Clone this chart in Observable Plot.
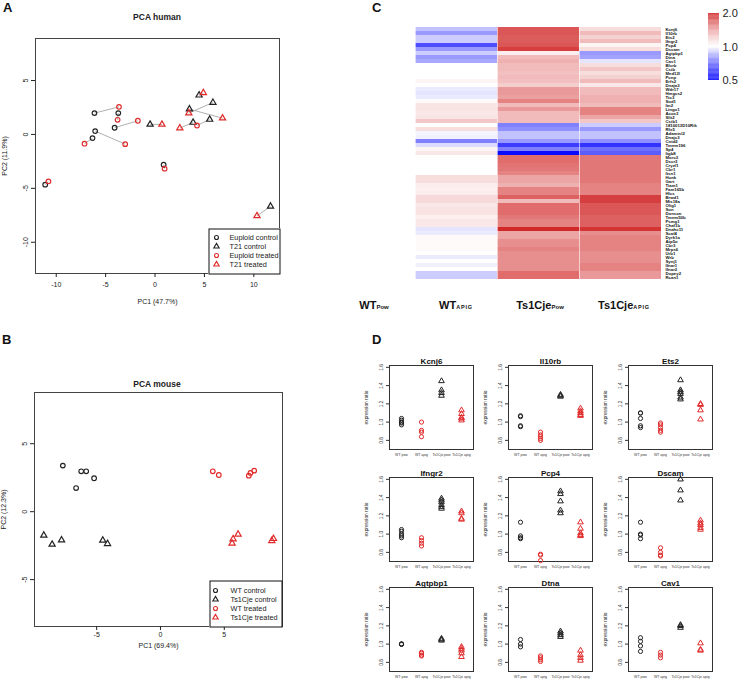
<!DOCTYPE html>
<html><head><meta charset="utf-8">
<script src="https://cdn.jsdelivr.net/npm/d3@7"></script>
<script src="https://cdn.jsdelivr.net/npm/@observablehq/plot@0.6"></script>
<style>
body{margin:0;background:#fff;font-family:"Liberation Sans",Arial,sans-serif}
#root{position:relative;width:739px;height:680px;overflow:hidden;background:#fff}
#root svg{overflow:visible}
</style></head><body><div id="root"></div><script>
// ---------- Panel A: PCA human ----------
const humanGroups = ["Euploid control","T21 control","Euploid treated","T21 treated"];
const humanEuploidControlPC1 = [-6.13,-4.09,-6.06,-11.12,0.87,-3.72,-6.33];
const humanEuploidControlPC2 = [1.98,0.62,0.31,-4.66,-2.81,1.98,-0.34];
const humanT21ControlPC1 = [-0.5,4.46,5.86,3.48,3.85,5.53,11.69];
const humanT21ControlPC2 = [0.93,3.64,2.96,2.35,1.11,1.39,-6.67];
const humanEuploidTreatedPC1 = [-3.65,-1.74,-3.02,-10.79,0.97,-3.79,-7.14,4.25];
const humanEuploidTreatedPC2 = [2.56,1.27,-0.90,-4.35,-3.18,1.36,-0.86,0.83];
const humanT21TreatedPC1 = [0.7,4.89,3.42,6.83,2.51,10.32];
const humanT21TreatedPC2 = [0.93,3.86,1.98,1.51,0.59,-7.56];
// links: [fromGroupIndex, fromPoint, toGroupIndex, toPoint]
const humanLinks = [[0,0,2,0],[0,1,2,1],[0,2,2,2],[0,3,2,3],[0,4,2,4],[0,5,2,5],[0,6,2,6],
  [1,0,3,0],[1,1,3,1],[1,2,3,2],[1,3,3,3],[1,4,3,4],[1,5,2,7],[1,6,3,5]];

// ---------- Panel B: PCA mouse ----------
const mouseGroups = ["WT control","Ts1Cje control","WT treated","Ts1Cje treated"];
const mouseWTControlPC1 = [-7.65,-6.21,-5.82,-5.2,-6.61];
const mouseWTControlPC2 = [3.39,2.97,2.97,2.46,1.74];
const mouseTsControlPC1 = [-9.14,-8.49,-7.75,-4.52,-4.15];
const mouseTsControlPC2 = [-1.74,-2.41,-2.09,-2.11,-2.36];
const mouseWTTreatedPC1 = [4.1,4.57,6.92,7.05,7.34];
const mouseWTTreatedPC2 = [2.97,2.7,2.65,2.85,3.02];
const mouseTsTreatedPC1 = [5.61,5.69,6.08,8.72,8.85];
const mouseTsTreatedPC2 = [-2.33,-2.01,-1.67,-2.14,-1.99];

// ---------- Panel C: heatmap ----------
const hmColumns = ["WTPow","WTAPIG","Ts1CjePow","Ts1CjeAPIG"];
const hmGenes = ["Kcnj6","Il10rb","Ets2","Ifngr2","Pcp4","Dscam","Agtpbp1","Dtna","Cav1","Blvrb","Cstb","Med12l","Pcnp","Erfs2","Dnaja3","Wdr17","Hmgcs2","Ttc3","Sod1","Itn2","Lingo1","Acox3","Slit2","Cstb1","1810013D10Rik","Rfx5","Adamtsl2","Dnajc3","Cntd2","Tmem196","Sp4","Itgb8","Morc3","Dscr3","Cryzl1","Cbr1","Itsn1","Hunk","Gart","Tiam1","Fam165b","Hlcs","Brwd1","Mis18a","Olig1","Son","Donson","Tmem50b","Psmg1","Chaf1b","Dnahc11","Scaf4","Dyrk1a","Atp5o","Cbr3","Mrps6","Urb1","Wrb","Synj1","Ifnar1","Ifnar2","Dopey2","Rcan1"];
const hmWTAPIG = [0.88,0.8,0.9,0.9,0.65,0.8,0.9,0.8,0.83,1.0,1.0,1.0,1.0,1.05,1.0,0.96,0.95,0.96,1.02,1.12,1.12,1.1,1.12,1.25,1.0,1.15,0.98,0.97,0.75,0.93,1.05,1.1,1.0,1.0,1.0,1.0,1.0,1.15,1.15,1.08,1.07,1.08,1.17,1.17,1.1,1.13,1.13,1.07,1.1,1.1,0.95,0.96,1.02,1.02,1.02,1.02,1.0,0.96,1.0,0.97,1.0,0.9,0.9];
const hmTs1CjePow = [1.75,1.75,1.72,1.72,1.75,1.85,1.08,1.3,1.35,1.3,1.3,1.28,1.3,1.28,1.22,1.45,1.45,1.42,1.55,1.3,1.45,1.3,1.3,1.3,0.75,0.78,0.88,0.88,0.8,0.62,0.75,0.52,1.65,1.65,1.62,1.6,1.55,1.4,1.4,1.35,1.55,1.55,1.7,1.3,1.65,1.65,1.65,1.6,1.55,1.55,1.95,1.4,1.4,1.5,1.5,1.55,1.5,1.5,1.5,1.5,1.5,1.65,1.65];
const hmTs1CjeAPIG = [1.15,1.3,1.2,1.3,1.05,1.15,0.8,0.82,0.95,1.15,1.25,1.15,1.2,1.3,1.1,1.3,1.3,1.35,1.35,1.3,1.55,1.55,1.4,1.25,0.9,0.8,0.88,0.88,0.78,0.6,0.72,0.68,1.6,1.6,1.6,1.6,1.6,1.6,1.6,1.55,1.55,1.55,1.85,1.85,1.75,1.75,1.75,1.7,1.7,1.7,1.9,1.5,1.55,1.55,1.55,1.55,1.5,1.5,1.5,1.55,1.55,1.45,1.45];
const hmLegendTicks = [0.5,1,2];

// ---------- Panel D: expression ratios ----------
const qpcrGroups = ["WT pow","WT apig","Ts1Cje pow","Ts1Cje apig"];
const qpcrGenes = ["Kcnj6","Il10rb","Ets2","Ifngr2","Pcp4","Dscam","Agtpbp1","Dtna","Cav1"];
const qpcrWTpow = [[0.97,0.99,1.0,1.02,1.04],[1.07,1.06,0.96,0.95],[1.1,1.1,1.04,0.96,0.94],[1.05,1.03,1.0,0.98,0.96],[1.13,0.98,0.96,0.95],[1.13,1.0,0.99,0.95],[1.0,1.0,1.0,1.0],[1.05,1.0,0.97],[1.07,1.03,0.98,0.92]];
const qpcrWTapig = [[1.0,0.91,0.89,0.84],[0.89,0.86,0.84,0.82,0.8],[0.99,0.97,0.94,0.91,0.89],[0.96,0.93,0.9,0.87],[0.78,0.77,0.71],[0.85,0.8,0.77,0.76],[0.91,0.9,0.88,0.87],[0.87,0.85,0.83,0.81],[0.91,0.88,0.85]];
const qpcrTsPow = [[1.45,1.35,1.32,1.29],[1.3,1.29,1.28],[1.46,1.35,1.33,1.31,1.27,1.25],[1.39,1.37,1.35,1.32,1.3,1.28],[1.47,1.44,1.36,1.26,1.23],[1.6,1.48,1.37],[1.06,1.05,1.04],[1.14,1.12,1.1,1.08],[1.21,1.2,1.18]];
const qpcrTsApig = [[1.13,1.09,1.05,1.04,1.02],[1.15,1.12,1.1,1.08,1.07],[1.2,1.19,1.13,1.03],[1.25,1.23,1.17,1.16],[1.13,1.06,1.01,0.99,0.98],[1.15,1.12,1.1,1.07,1.05],[0.97,0.95,0.93,0.9,0.86],[0.93,0.88,0.85,0.82],[1.01,0.94,0.93]];

// ---------- helpers ----------
const FONT = "Liberation Sans, Arial, sans-serif";
const BLACK = "#222", RED = "#e02a2a";
const root = document.getElementById("root");
function place(el, left, top) { el.style.position = "absolute"; el.style.left = left + "px"; el.style.top = top + "px"; root.appendChild(el); return el; }
function text(html, left, top, css) { const d = document.createElement("div"); d.innerHTML = html; d.style.cssText = css; place(d, left, top); d.style.whiteSpace = "nowrap"; return d; }

function toPoints(groups, arrs) {
  const pts = [];
  arrs.forEach(([xs, ys], gi) => xs.forEach((x, i) => pts.push({group: groups[gi], pc1: x, pc2: ys[i]})));
  return pts;
}

function pcaPlot(o) {
  return Plot.plot({
    width: o.width, height: o.height,
    marginLeft: o.ml, marginRight: o.mr, marginTop: o.mt, marginBottom: o.mb,
    style: {fontFamily: FONT, fontSize: "7px", color: "#222", background: "transparent"},
    x: {domain: o.xDomain},
    y: {domain: o.yDomain},
    symbol: {domain: o.groups, range: ["circle","triangle","circle","triangle"]},
    color: {domain: o.groups, range: [BLACK, BLACK, RED, RED]},
    marks: [
      Plot.link(o.links, {x1: "x1", y1: "y1", x2: "x2", y2: "y2", stroke: "#9c9c9c", strokeWidth: 0.8}),
      Plot.dot(o.points, {x: "pc1", y: "pc2", symbol: "group", stroke: "group", r: 2.3, strokeWidth: 1.2}),
      Plot.frame({stroke: "#444"}),
      Plot.axisX({ticks: o.xTicks, tickFormat: d => String(d), tickSize: 4, tickPadding: o.xPad, label: o.xLabel, labelAnchor: "center", labelOffset: o.xLabelOffset, labelArrow: "none"}),
      Plot.axisY({ticks: o.yTicks, tickFormat: d => String(d), tickSize: 4, tickPadding: 4, tickRotate: -90, label: o.yLabel, labelAnchor: "center", labelOffset: 33, labelArrow: "none"})
    ]
  });
}

function legendPlot(groups, w, h, symX, txtX, rows) {
  return Plot.plot({
    width: w, height: h, marginLeft: 0, marginRight: 0, marginTop: 0, marginBottom: 0,
    style: {fontFamily: FONT, fontSize: "7.3px", color: "#222", background: "#fff"},
    x: {domain: [0, w], axis: null},
    y: {type: "point", domain: groups, range: rows, padding: 0, axis: null},
    symbol: {domain: groups, range: ["circle","triangle","circle","triangle"]},
    color: {domain: groups, range: [BLACK, BLACK, RED, RED]},
    marks: [
      Plot.frame({stroke: "#111", inset: 0.5}),
      Plot.dot(groups, {x: () => symX, y: d => d, symbol: d => d, stroke: d => d, r: 2, strokeWidth: 1.1}),
      Plot.text(groups, {x: () => txtX, y: d => d, text: d => d, textAnchor: "start", fill: "#222"})
    ]
  });
}

// ---------- Panel A ----------
const humanArrs = [[humanEuploidControlPC1, humanEuploidControlPC2],[humanT21ControlPC1, humanT21ControlPC2],[humanEuploidTreatedPC1, humanEuploidTreatedPC2],[humanT21TreatedPC1, humanT21TreatedPC2]];
const humanPoints = toPoints(humanGroups, humanArrs);
const humanLinkData = humanLinks.map(([g1,i1,g2,i2]) => ({x1: humanArrs[g1][0][i1], y1: humanArrs[g1][1][i1], x2: humanArrs[g2][0][i2], y2: humanArrs[g2][1][i2]}));
place(pcaPlot({width: 290, height: 320, ml: 35, mr: 11, mt: 38, mb: 47,
  xDomain: [-12.1, 12.6], yDomain: [-12.9, 8.9], xTicks: [-10,-5,0,5,10], yTicks: [-10,-5,0,5],
  xLabel: "PC1 (47.7%)", yLabel: "PC2 (11.9%)", xLabelOffset: 30, xPad: 5,
  groups: humanGroups, points: humanPoints, links: humanLinkData}), 0, 0);
place(legendPlot(humanGroups, 72, 46, 8, 21, [9, 36]), 208, 228);
text("PCA human", 157, 17, `font:bold 8.5px ${FONT};transform:translate(-50%,-50%);color:#222`);
text("A", 3, 0, `font:bold 13px ${FONT};color:#111`);

// ---------- Panel B ----------
const mouseArrs = [[mouseWTControlPC1, mouseWTControlPC2],[mouseTsControlPC1, mouseTsControlPC2],[mouseWTTreatedPC1, mouseWTTreatedPC2],[mouseTsTreatedPC1, mouseTsTreatedPC2]];
const mousePoints = toPoints(mouseGroups, mouseArrs);
place(pcaPlot({width: 290, height: 360, ml: 34, mr: 8, mt: 72, mb: 54,
  xDomain: [-9.87, 9.56], yDomain: [-8.45, 8.77], xTicks: [-5,0,5], yTicks: [-5,0,5],
  xLabel: "PC1 (69.4%)", yLabel: "PC2 (12.3%)", xLabelOffset: 21, xPad: 2,
  groups: mouseGroups, points: mousePoints, links: []}), 0, 320);
place(legendPlot(mouseGroups, 73, 47, 6, 21, [10, 37]), 209, 580);
text("PCA mouse", 157, 384, `font:bold 8.5px ${FONT};transform:translate(-50%,-50%);color:#222`);
text("B", 2, 332, `font:bold 13px ${FONT};color:#111`);

// ---------- Panel C ----------
const hmData = [];
hmGenes.forEach((g, i) => {
  hmData.push({col: "WTAPIG", gene: g, ratio: hmWTAPIG[i]});
  hmData.push({col: "Ts1CjePow", gene: g, ratio: hmTs1CjePow[i]});
  hmData.push({col: "Ts1CjeAPIG", gene: g, ratio: hmTs1CjeAPIG[i]});
});
const heatColor = {type: "linear", domain: [0.5, 1, 2], range: ["#0000ff", "#ffffff", "#cf1d1d"], interpolate: "rgb"};
place(Plot.plot({
  width: 406, height: 300, marginLeft: 0, marginRight: 78, marginTop: 13, marginBottom: 7,
  style: {fontFamily: FONT, fontSize: "4.3px", color: "#111", background: "transparent"},
  x: {type: "band", domain: hmColumns, padding: 0, axis: null},
  y: {type: "band", domain: hmGenes, padding: 0},
  color: heatColor,
  marks: [
    Plot.cell(hmData, {x: "col", y: "gene", fill: "ratio", insetLeft: 0.6}),
    Plot.axisY({anchor: "right", tickSize: 0, tickPadding: 4, label: null, fontWeight: "bold"})
  ]
}), 333, 0);
const barSteps = d3.range(80).map(i => ({lo: 0.5 * Math.pow(4, i / 80), hi: 0.5 * Math.pow(4, (i + 1) / 80)}));
place(Plot.plot({
  width: 40, height: 92, marginLeft: 8, marginRight: 21, marginTop: 13, marginBottom: 12,
  style: {fontFamily: FONT, fontSize: "11px", color: "#222", background: "transparent"},
  x: {domain: [0, 1], axis: null},
  y: {type: "log", domain: [0.5, 2]},
  color: heatColor,
  marks: [
    Plot.rect(barSteps, {x1: 0, x2: 1, y1: "lo", y2: "hi", fill: d => Math.sqrt(d.lo * d.hi)}),
    Plot.axisY({anchor: "right", ticks: hmLegendTicks, tickFormat: d => d.toFixed(1), tickSize: 0, tickPadding: 3, label: null})
  ]
}), 700, 0);
const colLabelHtml = ["<b>WT</b><span style='font-size:6px;font-weight:bold'>Pow</span>",
  "<b>WT</b><span style='font-size:5.5px;font-weight:bold;letter-spacing:0.8px'>APIG</span>",
  "<b>Ts1Cje</b><span style='font-size:6px;font-weight:bold'>Pow</span>",
  "<b>Ts1Cje</b><span style='font-size:5.5px;font-weight:bold;letter-spacing:0.8px'>APIG</span>"];
[374, 456, 540, 624].forEach((cx, i) => text(colLabelHtml[i], cx, 305, `font:11px ${FONT};transform:translate(-50%,-50%);color:#111`));
text("C", 372, 0, `font:bold 13px ${FONT};color:#111`);

// ---------- Panel D ----------
function qpcrPlot(i) {
  const pts = [];
  [qpcrWTpow, qpcrWTapig, qpcrTsPow, qpcrTsApig].forEach((arr, gi) => arr[i].forEach(v => pts.push({group: qpcrGroups[gi], value: v})));
  return Plot.plot({
    width: 118, height: 112, marginLeft: 30, marginRight: 4, marginTop: 16, marginBottom: 12,
    style: {fontFamily: FONT, fontSize: "4.8px", color: "#333", background: "transparent"},
    x: {type: "point", domain: qpcrGroups, padding: 0.6},
    y: {domain: [0.7, 1.62]},
    symbol: {domain: qpcrGroups, range: ["circle","circle","triangle","triangle"]},
    color: {domain: qpcrGroups, range: [BLACK, RED, BLACK, RED]},
    marks: [
      Plot.frame({stroke: "#333"}),
      Plot.axisY({ticks: [0.8,1,1.2,1.4,1.6], tickFormat: d => d.toFixed(1), tickSize: 3, tickPadding: 4, tickRotate: -90, label: "expression ratio", labelAnchor: "center", labelOffset: 25, labelArrow: "none"}),
      Plot.axisX({tickSize: 0, tickPadding: 4, label: null, fontSize: "3.5px"}),
      Plot.dot(pts, {x: "group", y: "value", symbol: "group", stroke: "group", r: 2.1, strokeWidth: 1}),
      Plot.text([qpcrGenes[i]], {frameAnchor: "top", dy: -2, lineAnchor: "bottom", text: d => d, fontSize: 8, fontWeight: "bold", fill: "#111"})
    ]
  });
}
const dCols = [389, 508, 628], dRows = [365, 477, 587];
qpcrGenes.forEach((g, i) => place(qpcrPlot(i), dCols[i % 3] - 30, dRows[Math.floor(i / 3)] - 16));
text("D", 372, 332, `font:bold 13px ${FONT};color:#111`);
</script></body></html>
